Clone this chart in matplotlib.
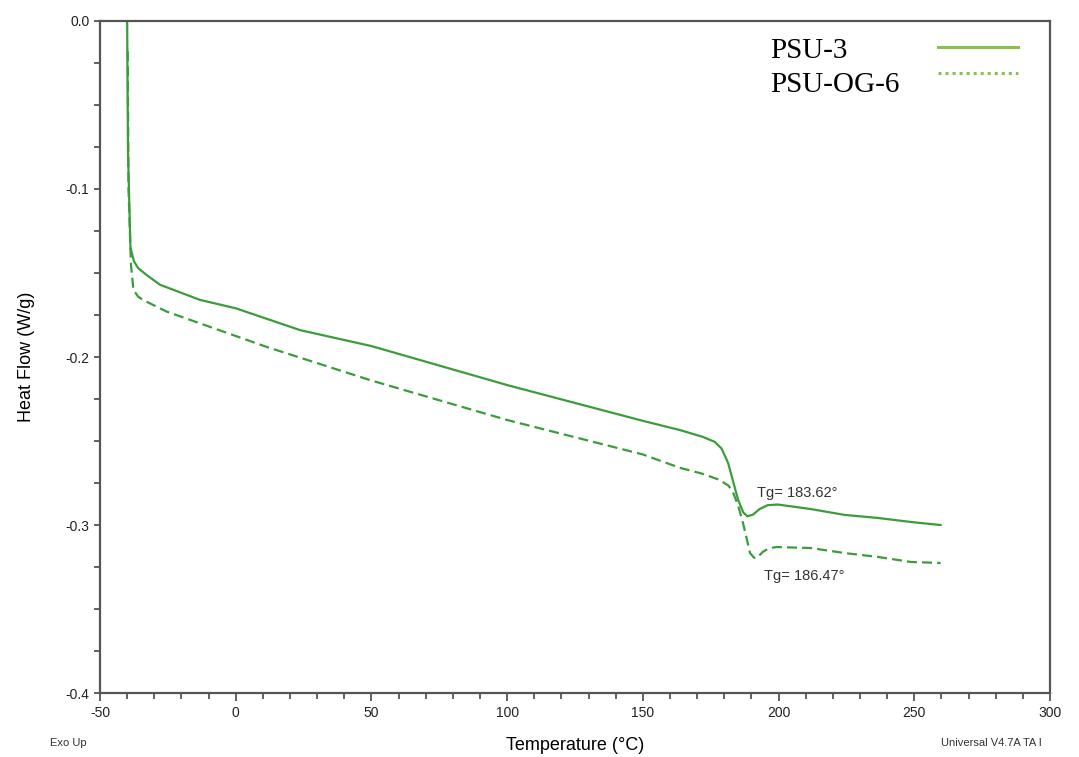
import matplotlib
matplotlib.use("Agg")
from matplotlib import pyplot as plt
from matplotlib.lines import Line2D
from matplotlib.ticker import MultipleLocator

plt.rcParams["axes.unicode_minus"] = False

# PSU-3 (solid)
psu3_temp = [-40.0, -39.7, -38.8, -37.5, -36.0, -33.0, -27.9, -13.2, 0.0, 23.7, 50.0, 100.0,
             150.0, 163.7, 172.0, 176.5, 179.0, 181.4, 185.1, 187.0, 188.5, 190.6, 193.0,
             196.0, 199.7, 211.9, 224.4, 236.6, 248.8, 259.7]
psu3_flow = [0.0, -0.077, -0.135, -0.143, -0.147, -0.151, -0.157, -0.166, -0.171, -0.184,
             -0.1935, -0.2167, -0.238, -0.2435, -0.2475, -0.2505, -0.2545, -0.263, -0.285,
             -0.2925, -0.2948, -0.2938, -0.2905, -0.2882, -0.2878, -0.2905, -0.294, -0.2958,
             -0.2982, -0.300]

# PSU-OG-6 (dashed)
og6_temp = [-39.8, -39.5, -38.6, -37.7, -36.0, -34.2, -25.4, 11.4, 50.0, 100.0, 150.0, 163.7,
            172.0, 178.0, 181.5, 183.2, 185.2, 186.9, 189.5, 191.0, 192.0, 194.2, 196.5,
            199.3, 211.9, 224.4, 236.6, 248.8, 259.7]
og6_flow = [-0.018, -0.10, -0.145, -0.160, -0.164, -0.166, -0.173, -0.194, -0.214, -0.2375,
            -0.258, -0.266, -0.2695, -0.273, -0.2765, -0.2804, -0.289, -0.2988, -0.3167,
            -0.3195, -0.3196, -0.316, -0.3138, -0.3131, -0.3137, -0.3167, -0.319, -0.322,
            -0.3226]

labels = ["PSU-3", "PSU-OG-6"]
tg_labels = ["Tg= 183.62\u00b0", "Tg= 186.47\u00b0"]
tg_pos = [(192.0, -0.2835), (194.8, -0.3325)]

line_color = "#3a9d3a"
legend_color = "#8cc04c"
spine_color = "#555555"

fig = plt.figure(figsize=(10.79, 7.57), dpi=100)
ax = fig.add_axes([0.0927, 0.0845, 0.8804, 0.8878])

ax.plot(psu3_temp, psu3_flow, color=line_color, lw=1.6)
ax.plot(og6_temp, og6_flow, color=line_color, lw=1.6, dashes=(4.5, 2.3))

for txt, (tx, ty) in zip(tg_labels, tg_pos):
    ax.text(tx, ty, txt, fontsize=10.5, color="#333333", family="Liberation Sans")

ax.set_xlim(-50, 300)
ax.set_ylim(-0.4, 0.0)
ax.xaxis.set_major_locator(MultipleLocator(50))
ax.xaxis.set_minor_locator(MultipleLocator(10))
ax.yaxis.set_major_locator(MultipleLocator(0.1))
ax.yaxis.set_minor_locator(MultipleLocator(0.025))
ax.set_yticks(ax.get_yticks())
ax.set_yticklabels([f"{v:.1f}" if abs(v) > 1e-9 else "0.0" for v in ax.get_yticks()])
ax.set_ylim(-0.4, 0.0)

for s in ax.spines.values():
    s.set_color(spine_color)
    s.set_linewidth(1.6)
ax.tick_params(which="both", direction="out", color=spine_color, width=1.3,
               labelsize=10, labelcolor="#222222")
ax.tick_params(axis="x", which="major", length=6)
ax.tick_params(axis="x", which="minor", length=4)
ax.tick_params(axis="y", which="both", length=4)
for lab in ax.get_xticklabels() + ax.get_yticklabels():
    lab.set_family("Liberation Sans")

ax.set_xlabel("Temperature (\u00b0C)", fontsize=13, family="Liberation Sans", labelpad=12)
ax.set_ylabel("Heat Flow (W/g)", fontsize=13, family="Liberation Sans", labelpad=22)

fig.text(0.046, 0.015, "Exo Up", fontsize=8, family="Liberation Sans", color="#333333")
fig.text(0.872, 0.015, "Universal V4.7A TA I", fontsize=8, family="Liberation Sans",
         color="#333333")

# legend drawn by hand: labels left-aligned, line samples on the right
label_y = [0.9234, 0.8785]
sample_y = [0.9383, 0.9032]
sample_dashes = [None, (1.0, 1.3)]
for lab, ly, sy, dsh in zip(labels, label_y, sample_y, sample_dashes):
    fig.text(0.7136, ly, lab, fontsize=21, family="Liberation Serif", va="baseline")
    ln = Line2D([0.8693, 0.9435], [sy, sy], transform=fig.transFigure,
                color=legend_color, lw=2.2)
    if dsh:
        ln.set_dashes(dsh)
    fig.lines.append(ln)

fig.savefig("out.png", dpi=100)
